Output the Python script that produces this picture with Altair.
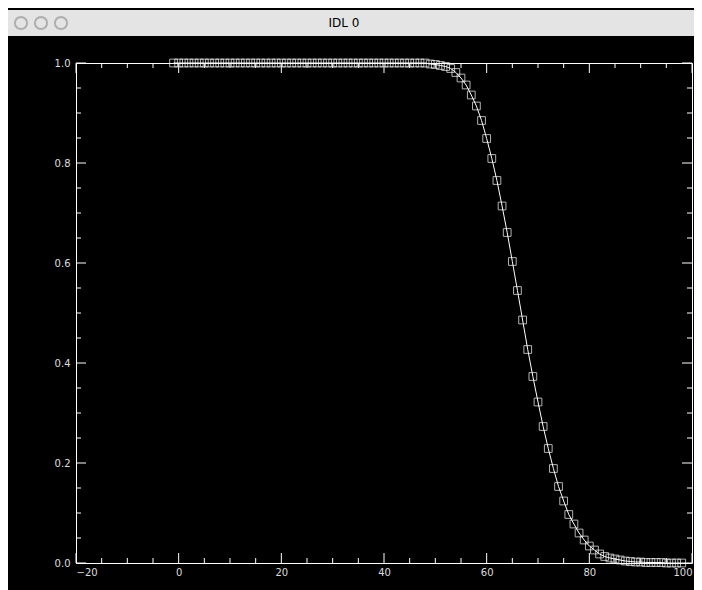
import altair as alt
import pandas as pd

# curve values, x = -1 .. 98
xs = list(range(-1, 99))
tail = [0.998, 0.997, 0.995, 0.993, 0.989, 0.981, 0.970, 0.956, 0.936, 0.914,
        0.885, 0.849, 0.809, 0.765, 0.714, 0.661, 0.603, 0.545, 0.486, 0.427,
        0.373, 0.322, 0.273, 0.229, 0.189, 0.153, 0.124, 0.097, 0.078, 0.060,
        0.046, 0.034, 0.026, 0.018, 0.013, 0.010, 0.008, 0.006, 0.004, 0.003,
        0.002, 0.002, 0.001, 0.001, 0.001, 0.001, 0.0, 0.0, 0.0, 0.0]
ys = [1.0] * (len(xs) - len(tail)) + tail

x_major = [-20, 0, 20, 40, 60, 80, 100]
x_minor = [v for v in range(-20, 101, 5) if v % 20]
y_major = [0.0, 0.2, 0.4, 0.6, 0.8, 1.0]
y_minor = [round(v * 0.05, 2) for v in range(21) if v % 4]

W, H = 616, 500
df = pd.DataFrame({"x": xs, "y": ys})
xsc = alt.Scale(domain=[-20, 100], nice=False)
ysc = alt.Scale(domain=[0, 1], nice=False)

lab = dict(domain=False, ticks=False, grid=False, labelColor="#dddddd",
           labelFont="DejaVu Sans", labelFontSize=10, title=None)

base = alt.Chart(df)
line = base.mark_line(color="white", strokeWidth=1).encode(
    x=alt.X("x:Q", scale=xsc, axis=alt.Axis(values=x_major, format="d", labelPadding=4, **lab)),
    y=alt.Y("y:Q", scale=ysc, axis=alt.Axis(values=y_major, format=".1f", labelPadding=6, **lab)),
)
pts = base.mark_point(shape="square", size=60, filled=False, color="white", strokeWidth=1).encode(
    x=alt.X("x:Q", scale=xsc), y=alt.Y("y:Q", scale=ysc)
)


def xticks(vals, n):
    d = pd.DataFrame({"x": vals})
    bot = alt.Chart(d).mark_rule(color="white").encode(
        x=alt.X("x:Q", scale=xsc), y=alt.value(H), y2=alt.value(H - n))
    top = alt.Chart(d).mark_rule(color="white").encode(
        x=alt.X("x:Q", scale=xsc), y=alt.value(0), y2=alt.value(n))
    return bot + top


def yticks(vals, n):
    d = pd.DataFrame({"y": vals})
    left = alt.Chart(d).mark_rule(color="white").encode(
        y=alt.Y("y:Q", scale=ysc), x=alt.value(0), x2=alt.value(n))
    right = alt.Chart(d).mark_rule(color="white").encode(
        y=alt.Y("y:Q", scale=ysc), x=alt.value(W), x2=alt.value(W - n))
    return left + right


bar = alt.Chart(pd.DataFrame({"t": ["IDL 0"]}))
titlebar = bar.mark_rect(color="#e4e4e4", clip=False).encode(
    x=alt.value(-76), x2=alt.value(W + 10), y=alt.value(-53), y2=alt.value(-27))
titletext = bar.mark_text(color="black", font="DejaVu Sans", fontSize=12, clip=False).encode(
    text="t:N", x=alt.value(W / 2 - 40), y=alt.value(-40))
dots = alt.Chart(pd.DataFrame({"px": [-55, -35, -15]})).mark_point(
    shape="circle", size=150, color="#999999", filled=False, clip=False).encode(
    x=alt.X("px:Q", scale=None), y=alt.value(-40))

chart = (
    alt.layer(titlebar, titletext, dots,
              xticks(x_major, 10), xticks(x_minor, 5),
              yticks(y_major, 10), yticks(y_minor, 5),
              line, pts)
    .properties(width=W, height=H, background="black",
                padding={"left": 68, "top": 55, "right": 2, "bottom": 27},
                autosize=alt.AutoSizeParams(type="none"))
    .configure_view(stroke="white", strokeWidth=1)
)

chart.save("out.html", embed_options={"renderer": "svg", "actions": False})
